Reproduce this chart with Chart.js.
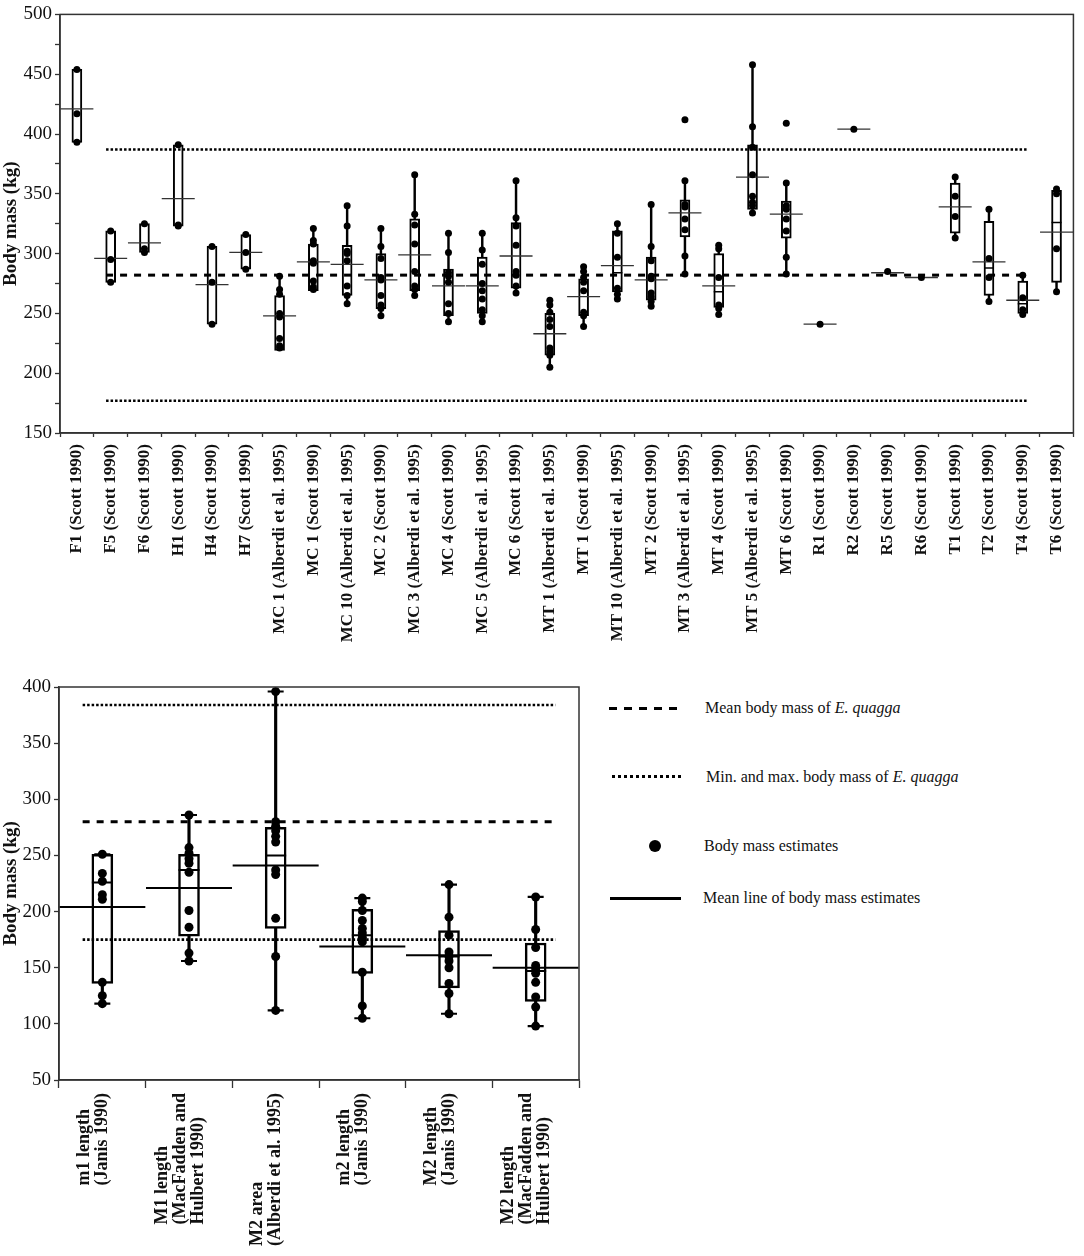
<!DOCTYPE html>
<html lang="en">
<head>
<meta charset="UTF-8" />
<title>Body mass estimates</title>
<script src="https://cdn.jsdelivr.net/npm/chart.js"></script>
<style>
  body { margin: 0; background: #fff; }
  #topBox { position: absolute; left: 0; top: 0; width: 1084px; height: 662px; }
  #botBox { position: absolute; left: 0; top: 672px; width: 592px; height: 584px; }
  .legend { position: absolute; left: 0; top: 0; font-family: 'Liberation Serif', 'Times New Roman', serif; font-size: 16px; color: #111; }
  .sym { position: absolute; }
  .txt { position: absolute; white-space: nowrap; line-height: 20px; }
</style>
</head>
<body>
<div id="topBox"><canvas id="topChart"></canvas></div>
<div id="botBox"><canvas id="botChart"></canvas></div>
<div class="legend">
  <div class="sym" style="left:609px;top:707px;width:70px;height:3px;background:repeating-linear-gradient(to right,#000 0 8px,transparent 8px 15px);"></div>
  <div class="txt" style="left:705px;top:698px;">Mean body mass of <i>E. quagga</i></div>
  <div class="sym" style="left:612px;top:775px;width:70px;height:3px;background:repeating-linear-gradient(to right,#000 0 3px,transparent 3px 6px);"></div>
  <div class="txt" style="left:706px;top:767px;">Min. and max. body mass of <i>E. quagga</i></div>
  <div class="sym" style="left:649px;top:840px;width:12px;height:12px;border-radius:50%;background:#000;"></div>
  <div class="txt" style="left:704px;top:836px;">Body mass estimates</div>
  <div class="sym" style="left:610px;top:897px;width:71px;height:3px;background:#000;"></div>
  <div class="txt" style="left:703px;top:888px;">Mean line of body mass estimates</div>
</div>
<script>
// ---- top panel: postcranial elements ----
const topCats = ["F1 (Scott 1990)", "F5 (Scott 1990)", "F6 (Scott 1990)", "H1 (Scott 1990)", "H4 (Scott 1990)", "H7 (Scott 1990)",
  "MC 1 (Alberdi et al. 1995)", "MC 1 (Scott 1990)", "MC 10 (Alberdi et al. 1995)", "MC 2 (Scott 1990)", "MC 3 (Alberdi et al. 1995)",
  "MC 4 (Scott 1990)", "MC 5 (Alberdi et al. 1995)", "MC 6 (Scott 1990)", "MT 1 (Alberdi et al. 1995)", "MT 1 (Scott 1990)",
  "MT 10 (Alberdi et al. 1995)", "MT 2 (Scott 1990)", "MT 3 (Alberdi et al. 1995)", "MT 4 (Scott 1990)", "MT 5 (Alberdi et al. 1995)",
  "MT 6 (Scott 1990)", "R1 (Scott 1990)", "R2 (Scott 1990)", "R5 (Scott 1990)", "R6 (Scott 1990)", "T1 (Scott 1990)",
  "T2 (Scott 1990)", "T4 (Scott 1990)", "T6 (Scott 1990)"];
const topBoxLow = [393, 276, 301, 323, 241, 287, 219, 269, 265, 254, 269, 248, 250, 271, 215, 248, 268, 261, 314, 255, 337, 313, null, null, null, null, 317, 265, 250, 276];
const topBoxHigh = [454, 319, 325, 391, 306, 316, 265, 308, 307, 300, 329, 287, 297, 326, 250, 279, 319, 297, 345, 300, 391, 344, null, null, null, null, 359, 327, 277, 353];
const topWhiskLow = [null, null, null, null, null, null, 221, 270, 258, 248, 265, 243, 243, 267, 205, 239, 262, 256, 283, 249, 334, 283, null, null, null, null, 313, 260, 249, 268];
const topWhiskHigh = [null, null, null, null, null, null, 281, 321, 340, 321, 366, 317, 317, 361, 261, 289, 325, 341, 361, 307, 458, 359, null, null, null, null, 364, 337, 282, 354];
const topMeans = [421, 296, 309, 346, 274, 301, 248, 293, 291, 278, 299, 273, 273, 298, 233, 264, 290, 278, 334, 273, 364, 333, 241, 404, 284, 280, 339, 293, 261, 318];
const topMedians = [null, null, null, null, null, null, null, null, null, null, null, null, null, null, null, null, 284, null, null, 268, null, null, null, null, null, null, null, 288, 258, 326];
const topPoints = [
  [454, 417, 393], [319, 295, 276], [325, 304, 301], [391, 324, 323], [306, 276, 241], [316, 301, 287],
  [281, 270, 266, 250, 247, 229, 223, 221], [321, 311, 308, 294, 292, 277, 272, 270],
  [340, 323, 302, 300, 294, 273, 265, 258], [321, 306, 296, 280, 278, 265, 257, 254, 248],
  [366, 333, 324, 308, 285, 273, 270, 265], [317, 301, 284, 281, 276, 258, 250, 243],
  [317, 303, 291, 275, 269, 262, 253, 248, 243], [361, 330, 323, 307, 285, 282, 273, 267],
  [261, 257, 251, 245, 239, 221, 218, 215, 205], [289, 285, 280, 276, 269, 251, 248, 239],
  [325, 317, 297, 271, 266, 262], [341, 306, 294, 281, 279, 267, 264, 260, 256],
  [412, 361, 341, 339, 329, 320, 298, 283], [307, 304, 280, 257, 254, 249],
  [458, 406, 389, 366, 348, 343, 340, 334], [409, 359, 340, 337, 329, 319, 297, 283],
  [241], [404], [285], [280], [364, 348, 331, 313], [337, 296, 280, 260], [282, 263, 253, 249], [354, 350, 304, 268]];
const topQuagga = [282, 177, 387]; // mean, min, max as drawn

// ---- bottom panel: teeth ----
const botCats = ["m1 length|(Janis 1990)", "M1 length|(MacFadden and|Hulbert 1990)", "M2 area|(Alberdi et al. 1995)",
  "m2 length|(Janis 1990)", "M2 length|(Janis 1990)", "M2 length|(MacFadden and|Hulbert 1990)"];
const botBoxLow = [136, 178, 185, 145, 132, 120];
const botBoxHigh = [251, 251, 275, 202, 183, 172];
const botWhiskLow = [118, 156, 112, 105, 109, 98];
const botWhiskHigh = [251, 286, 396, 212, 224, 213];
const botMeans = [204, 221, 241, 169, 161, 150];
const botMedians = [226, 237, 250, 179, 160, 147];
const botPoints = [
  [251, 234, 227, 215, 211, 137, 125, 118],
  [286, 257, 252, 247, 243, 235, 201, 186, 163, 156],
  [396, 280, 276, 272, 267, 262, 237, 233, 194, 160, 112],
  [212, 209, 201, 192, 185, 181, 177, 173, 146, 116, 105],
  [224, 195, 179, 164, 160, 156, 150, 136, 127, 109],
  [213, 184, 168, 152, 149, 145, 137, 124, 115, 98]];
const botQuagga = [280, 175, 384];

const serif = "'Liberation Serif', 'Times New Roman', serif";
Chart.defaults.font.family = serif;
Chart.defaults.color = '#111';

const frame = {
  id: 'frame',
  afterDatasetsDraw(chart) {
    const a = chart.chartArea, ctx = chart.ctx;
    ctx.save();
    ctx.strokeStyle = '#333';
    ctx.lineWidth = 1.5;
    ctx.strokeRect(a.left, a.top, a.right - a.left, a.bottom - a.top);
    ctx.restore();
  }
};

// multi-line rotated labels, lines aligned at their start like the original
const stackedLabels = {
  id: 'stackedLabels',
  afterDraw(chart, args, opts) {
    if (!opts.on) return;
    const x = chart.scales.x, ctx = chart.ctx;
    ctx.save();
    ctx.font = 'bold ' + opts.size + 'px ' + serif;
    ctx.fillStyle = '#111';
    ctx.textAlign = 'left';
    ctx.textBaseline = 'middle';
    chart.data.labels.forEach((lab, i) => {
      const lines = lab.split('|');
      const w = Math.max(...lines.map(l => ctx.measureText(l).width));
      const cx = x.getPixelForTick(i) + opts.shift;
      lines.forEach((l, j) => {
        ctx.save();
        ctx.translate(cx + (j - (lines.length - 1) / 2) * opts.lh, x.top + opts.gap + w);
        ctx.rotate(-Math.PI / 2);
        ctx.fillText(l, 0, 0);
        ctx.restore();
      });
    });
    ctx.restore();
  }
};

function makeChart(id, cats, boxLow, boxHigh, whiskLow, whiskHigh, means, medians, points, quagga, st) {
  const pair = (a, b) => cats.map((c, i) => a[i] == null ? null : [a[i], b[i]]);
  const at = arr => cats.map((c, i) => arr[i] == null ? null : { x: c, y: arr[i] }).filter(Boolean);
  const pts = [];
  points.forEach((list, i) => list.forEach(v => pts.push({ x: cats[i], y: v })));
  const ref = (v, dash, w) => ({
    type: 'line', xAxisID: 'xr', data: [{ x: 0, y: v }, { x: 1, y: v }],
    borderColor: '#000', borderWidth: w, borderDash: dash, pointRadius: 0, order: 1
  });

  const datasets = [
    { type: 'bar', data: pair(whiskLow, whiskHigh), backgroundColor: '#000', barThickness: st.whisk, grouped: false, order: 4 },
    { type: 'bar', data: pair(boxLow, boxHigh), backgroundColor: '#fff', borderColor: '#000', borderWidth: st.boxLine,
      borderSkipped: false, barThickness: st.boxW, grouped: false, order: 3 },
    { type: 'scatter', data: at(medians), pointStyle: 'line', pointRadius: st.boxW / 2, borderColor: '#000', borderWidth: st.medLine, order: 2 },
    { type: 'scatter', data: at(means), pointStyle: 'line', pointRadius: st.meanR, borderColor: st.meanColor, borderWidth: st.meanLine, order: 1 },
    ref(quagga[0], [7, 7], 3),
    ref(quagga[1], [2.5, 2], 2.6),
    ref(quagga[2], [2.5, 2], 2.6),
    { type: 'scatter', data: pts, pointRadius: st.dot, backgroundColor: '#000', borderColor: '#000', borderWidth: 0, order: 0 }
  ];
  if (st.caps) {
    datasets.push({ type: 'scatter', data: at(whiskLow).concat(at(whiskHigh)), pointStyle: 'line', pointRadius: st.caps,
      borderColor: '#000', borderWidth: 2.2, order: 2 });
  }

  return new Chart(document.getElementById(id), {
    type: 'bar',
    data: { labels: cats, datasets: datasets },
    options: {
      responsive: true,
      maintainAspectRatio: false,
      animation: false,
      layout: { padding: st.pad, autoPadding: false },
      plugins: {
        legend: { display: false }, tooltip: { enabled: false },
        stackedLabels: { on: st.stacked, size: st.xFont, lh: 18, gap: 13, shift: -9 }
      },
      scales: {
        x: {
          type: 'category',
          offset: true,
          grid: { offset: true, drawOnChartArea: false, tickLength: st.xTick, color: '#333', tickWidth: 1.3 },
          border: { color: '#333', width: 1.5 },
          ticks: {
            display: !st.stacked,
            autoSkip: false, minRotation: 90, maxRotation: 90, padding: st.xPad,
            font: { size: st.xFont, weight: 'bold' }, color: '#111'
          },
          afterFit: s => { s.height = st.xH; }
        },
        xr: { type: 'linear', min: 0, max: 1, display: false },
        y: {
          min: st.yMin, max: st.yMax,
          ticks: {
            stepSize: st.yStep, padding: 3, font: { size: 19 }, color: '#111',
            callback: v => (v % 50 === 0 ? v : '')
          },
          grid: { drawOnChartArea: false, tickLength: 5, color: '#333', tickWidth: 1.3 },
          border: { color: '#333', width: 1.5 },
          title: { display: true, text: 'Body mass (kg)', font: { size: 19, weight: 'bold' }, color: '#111', padding: { top: 0, bottom: 0 } },
          afterFit: s => { s.width = st.yW; }
        }
      }
    },
    plugins: [frame, stackedLabels]
  });
}

makeChart('topChart', topCats, topBoxLow, topBoxHigh, topWhiskLow, topWhiskHigh, topMeans, topMedians, topPoints, topQuagga, {
  whisk: 1.8, boxLine: 2, boxW: 10, medLine: 1.5, meanR: 16.5, meanLine: 1.3, meanColor: '#333', dot: 3.5, caps: 0,
  pad: { top: 13, right: 4, left: 0, bottom: 0 }, xTick: 4, xPad: 7, xFont: 17, xH: 229, yMin: 150, yMax: 500, yStep: 25, yW: 60,
  stacked: false
});

makeChart('botChart', botCats, botBoxLow, botBoxHigh, botWhiskLow, botWhiskHigh, botMeans, botMedians, botPoints, botQuagga, {
  whisk: 2.5, boxLine: 2.5, boxW: 21, medLine: 2, meanR: 43, meanLine: 2, meanColor: '#000', dot: 4.5, caps: 8,
  pad: { top: 15, right: 13, left: 0, bottom: 0 }, xTick: 8, xPad: 5, xFont: 18, xH: 176, yMin: 50, yMax: 400, yStep: 50, yW: 59,
  stacked: true
});
</script>
</body>
</html>
